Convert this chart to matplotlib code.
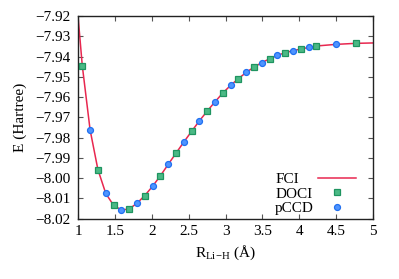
import matplotlib
matplotlib.use("Agg")
import matplotlib.pyplot as plt
from matplotlib.lines import Line2D

# ---- data (R in Angstrom, E in Hartree) ----
fci_r = [1.000, 1.058, 1.164, 1.270, 1.376, 1.482, 1.588, 1.693, 1.799, 1.905,
         2.011, 2.117, 2.223, 2.328, 2.434, 2.540, 2.646, 2.752, 2.858, 2.963,
         3.069, 3.175, 3.281, 3.387, 3.492, 3.598, 3.704, 3.810, 3.916, 4.022,
         4.127, 4.233, 4.498, 4.763, 5.000]
fci_e = [-7.9200, -7.9445, -7.9762, -7.9958, -8.0075, -8.0134, -8.0157, -8.0152, -8.0124, -8.0086,
         -8.0040, -7.9988, -7.9932, -7.9877, -7.9822, -7.9769, -7.9717, -7.9669, -7.9623, -7.9580,
         -7.9542, -7.9509, -7.9478, -7.9452, -7.9430, -7.9411, -7.9394, -7.9381, -7.9371, -7.9363,
         -7.9355, -7.9348, -7.9340, -7.9335, -7.9333]

doci_r = [1.058, 1.270, 1.482, 1.693, 1.905, 2.117, 2.328, 2.540, 2.752, 2.963,
          3.175, 3.387, 3.598, 3.810, 4.022, 4.233, 4.763]
doci_e = [-7.9445, -7.9958, -8.0134, -8.0152, -8.0086, -7.9988, -7.9877, -7.9769, -7.9669, -7.9580,
          -7.9509, -7.9452, -7.9411, -7.9381, -7.9363, -7.9348, -7.9335]

pccd_r = [1.164, 1.376, 1.588, 1.799, 2.011, 2.223, 2.434, 2.646, 2.858, 3.069,
          3.281, 3.492, 3.704, 3.916, 4.127, 4.498]
pccd_e = [-7.9762, -8.0075, -8.0157, -8.0124, -8.0040, -7.9932, -7.9822, -7.9717, -7.9623, -7.9542,
          -7.9478, -7.9430, -7.9394, -7.9371, -7.9355, -7.9340]

xticks = [1, 1.5, 2, 2.5, 3, 3.5, 4, 4.5, 5]
xticklabels = ["1", "1.5", "2", "2.5", "3", "3.5", "4", "4.5", "5"]
yticks = [-7.92, -7.93, -7.94, -7.95, -7.96, -7.97, -7.98, -7.99, -8.00, -8.01, -8.02]
yticklabels = ["\u22127.92", "\u22127.93", "\u22127.94", "\u22127.95", "\u22127.96", "\u22127.97",
               "\u22127.98", "\u22127.99", "\u22128.00", "\u22128.01", "\u22128.02"]
labels = ["FCI", "DOCI", "pCCD"]

# ---- style ----
plt.rcParams['font.family'] = ['Liberation Serif', 'DejaVu Serif']
plt.rcParams['mathtext.fontset'] = 'custom'
plt.rcParams['mathtext.rm'] = 'Liberation Serif'
plt.rcParams['mathtext.it'] = 'Liberation Serif:italic'
plt.rcParams['font.size'] = 11

FCI_C = '#e8274f'
DOCI_FC, DOCI_EC = '#4bb985', '#1f9460'
PCCD_FC, PCCD_EC = '#4f94ff', '#2070f0'

fig = plt.figure(figsize=(3.99, 2.79), dpi=100)
ax = fig.add_axes([0.1955, 0.2161, 0.7395, 0.7266])

ax.plot(fci_r, fci_e, color=FCI_C, lw=1.1, zorder=2)
ax.plot(doci_r, doci_e, ls='none', marker='s', ms=4.3, mfc=DOCI_FC, mec=DOCI_EC, mew=0.9, zorder=3)
ax.plot(pccd_r, pccd_e, ls='none', marker='o', ms=4.3, mfc=PCCD_FC, mec=PCCD_EC, mew=0.9, zorder=3)

ax.set_xlim(1, 5)
ax.set_ylim(-8.02, -7.92)
ax.set_xticks(xticks)
ax.set_xticklabels(xticklabels)
ax.set_yticks(yticks)
ax.set_yticklabels(yticklabels)
ax.tick_params(direction='in', top=True, right=True, length=3.6, width=0.8,
               color='#555555', labelsize=11)
ax.tick_params(axis='x', pad=4.5)
ax.tick_params(axis='y', pad=5.5)
for s in ax.spines.values():
    s.set_linewidth(1.0)
    s.set_color('#222222')

ax.set_xlabel(r'R$_{\mathrm{Li\!-\!H}}$ (Å)', fontsize=11, labelpad=4)
ax.set_ylabel('E (Hartree)', fontsize=11, labelpad=6)

# ---- key (gnuplot-style: left-aligned text, sample on the right) ----
tx = 0.668
rows_y = [0.1746, 0.1036, 0.0345]
for lab, yb in zip(labels, rows_y):
    ax.text(tx, yb, lab, transform=ax.transAxes, ha='left', va='baseline', fontsize=11)
ax.add_line(Line2D([0.8136, 0.9424], [0.199, 0.199], transform=ax.transAxes,
                   color=FCI_C, lw=1.1, clip_on=False))
ax.add_line(Line2D([0.879], [0.130], transform=ax.transAxes, ls='none', marker='s', ms=4.3,
                   mfc=DOCI_FC, mec=DOCI_EC, mew=0.9, clip_on=False))
ax.add_line(Line2D([0.879], [0.059], transform=ax.transAxes, ls='none', marker='o', ms=4.3,
                   mfc=PCCD_FC, mec=PCCD_EC, mew=0.9, clip_on=False))

fig.savefig('out.png', dpi=100)
